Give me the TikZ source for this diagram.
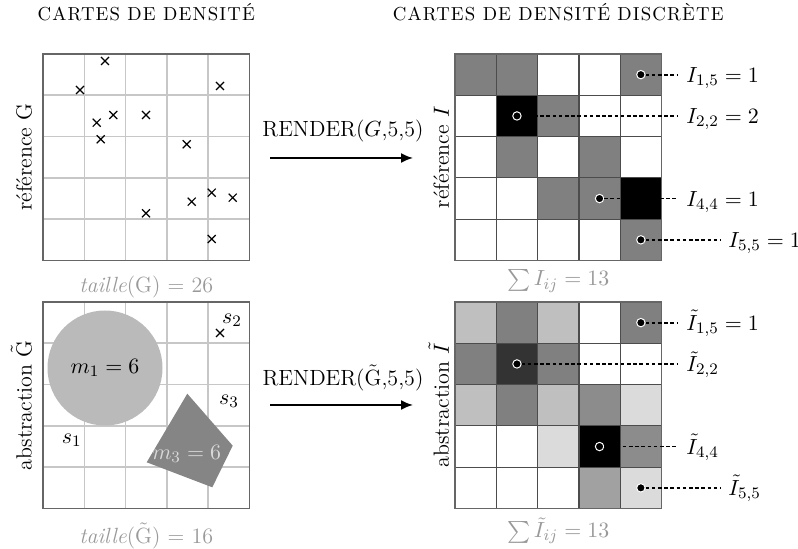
\documentclass[tikz,border=0pt]{standalone}
\usepackage{fontspec}
\usepackage{amsmath}
\usetikzlibrary{positioning,arrows.meta}
\newfontfamily\headcaps[LetterSpace=6]{lmroman10-regular.otf}

\begin{document}
\begin{tikzpicture}[x=0.5pt,y=-0.5pt,
  font=\fontsize{11}{13}\selectfont,
  frame/.style={draw=black!60,line width=0.6pt,minimum size=103.25pt,inner sep=0pt},
  gridline/.style={draw=black!22,line width=0.8pt},
  cell/.style={draw=black!70,line width=0.6pt},
  cross/.style={line width=0.6pt},
  dot/.style={circle,fill=black,draw=white,line width=0.5pt,inner sep=0pt,minimum size=4.2pt},
  lead/.style={dash pattern=on 1.8pt off 1.3pt,line width=0.9pt},
  lab/.style={anchor=west,inner sep=4pt,text height=7.6pt,text depth=0pt},
  rotlab/.style={rotate=90,anchor=south,inner sep=0pt},
  sizecap/.style={text=black!40,inner sep=0pt},
  head/.style={inner sep=0pt,font=\headcaps\fontsize{9.4}{11}\selectfont},
  maparrow/.style={-{Latex[length=6pt,width=5pt]},line width=0.9pt}]
\useasboundingbox (0,0) rectangle (798,549);

% reference G (points)
\foreach \i in {1,...,4} {
  \draw[gridline] ({43+41.3*\i},54) -- ++(0,206.5);
  \draw[gridline] (43,{54+41.3*\i}) -- ++(206.5,0);
}
\foreach \x/\y in {105/61,80/90,220/86,113.3/115,96.7/122.7,146/115,100.7/139.3,
    186.7/144.3,211.7/192.7,232.7/197.7,191.7/201.7,146/213.3,211.7/239}
  \draw[cross] ({\x-4},{\y-4}) -- ({\x+4},{\y+4}) ({\x-4},{\y+4}) -- ({\x+4},{\y-4});
\node[frame] (G) at (146.25,157.25) {};

% abstraction G~
\foreach \i in {1,...,4} {
  \draw[gridline] ({43+41.3*\i},302) -- ++(0,206.5);
  \draw[gridline] (43,{302+41.3*\i}) -- ++(206.5,0);
}
\node[circle,fill=black!27,minimum size=57.5pt,inner sep=0pt] (m1) at (105,368) {$m_1 = 6$};
\fill[black!48] (187.3,393.7) -- (232.7,445.7) -- (212.3,487.3) -- (146.7,462.3) -- cycle;
\node[text=white!85!black] (m3) at (186.7,454) {$m_3 = 6$};
\draw[cross] (216,329) -- (224,337) (216,337) -- (224,329);
\node (s1) at (71.7,440) {$s_1$};
\node (s2) at (232,320) {$s_2$};
\node (s3) at (229,401) {$s_3$};
\node[frame] (Gt) at (146.25,405.25) {};

% reference I (cells)
\def\rowsI{{50,50,0,0,50},{0,100,50,0,0},{0,50,0,50,0},{0,0,50,50,100},{0,0,0,0,50}}
\foreach \row [count=\r] in \rowsI
  \foreach \v [count=\c] in \row
    \filldraw[cell,fill=black!\v] ({455+41.3*(\c-1)},{54+41.3*(\r-1)}) rectangle ++(41.3,41.3);
\node[frame] (I) at (558.25,157.25) {};

% abstraction I~ (cells)
\def\rowsIt{{25,50,25,0,50},{50,80,50,0,0},{25,50,25,45,14},{0,0,14,100,45},{0,0,0,37,14}}
\foreach \row [count=\r] in \rowsIt
  \foreach \v [count=\c] in \row
    \filldraw[cell,fill=black!\v] ({455+41.3*(\c-1)},{302+41.3*(\r-1)}) rectangle ++(41.3,41.3);
\node[frame] (It) at (558.25,405.25) {};

% picked cells
\node[dot] (p15) at (640.85,74.65) {};
\node[dot] (p22) at (516.95,115.95) {};
\node[dot] (p44) at (599.55,198.55) {};
\node[dot] (p55) at (640.85,239.85) {};
\node[lab] (l15) at (678,74.65) {$I_{1,5} = 1$};
\node[lab] (l22) at (678,115.95) {$I_{2,2} = 2$};
\node[lab] (l44) at (678,198.55) {$I_{4,4} = 1$};
\node[lab] (l55) at (720,239.85) {$I_{5,5} = 1$};
\draw[lead] (p15) -- (l15.west);
\draw[lead] (p22) -- (l22.west);
\draw[lead] (p44) -- (l44.west);
\draw[lead] (p55) -- (l55.west);

\node[dot] (q15) at (640.85,322.65) {};
\node[dot] (q22) at (516.95,363.95) {};
\node[dot] (q44) at (599.55,446.55) {};
\node[dot] (q55) at (640.85,487.85) {};
\node[lab] (k15) at (678,322.65) {$\tilde{I}_{1,5} = 1$};
\node[lab] (k22) at (678,363.95) {$\tilde{I}_{2,2}$};
\node[lab] (k44) at (678,446.55) {$\tilde{I}_{4,4}$};
\node[lab] (k55) at (720,487.85) {$\tilde{I}_{5,5}$};
\draw[lead] (q15) -- (k15.west);
\draw[lead] (q22) -- (k22.west);
\draw[lead] (q44) -- (k44.west);
\draw[lead] (q55) -- (k55.west);

% side labels
\node[rotlab] (nG) at ([xshift=-5pt]G.west) {référence G};
\node[rotlab] (nI) at ([xshift=-2.5pt]I.west) {référence $I$};
\node[rotlab] (nGt) at ([xshift=-5pt]Gt.west) {abstraction $\tilde{\mathrm{G}}$};
\node[rotlab] (nIt) at ([xshift=-2.5pt]It.west) {abstraction $\tilde{I}$};

% sizes
\node[sizecap,below=7.5pt of G] (cG) {\textit{taille}(G) = 26};
\node[sizecap,below=4pt of I] (cI) {$\sum I_{ij} = 13$};
\node[sizecap,below=6.5pt of Gt] (cGt) {\textit{taille}($\tilde{\mathrm{G}}$) = 16};
\node[sizecap,below=4pt of It] (cIt) {$\sum \tilde{I}_{ij} = 13$};

% headings
\node[head,above=16pt of G] (hG) {CARTES DE DENSITÉ};
\node[head,above=16pt of I] (hI) {CARTES DE DENSITÉ DISCRÈTE};

% render
\node (r1) at (343,131) {RENDER($G$,5,5)};
\coordinate (a1s) at (270,158);
\coordinate (a1e) at (413,158);
\draw[maparrow] (a1s) -- (a1e);
\node (r2) at (343,378) {RENDER($\tilde{\mathrm{G}}$,5,5)};
\coordinate (a2s) at (270,405);
\coordinate (a2e) at (413,405);
\draw[maparrow] (a2s) -- (a2e);
\end{tikzpicture}
\end{document}
